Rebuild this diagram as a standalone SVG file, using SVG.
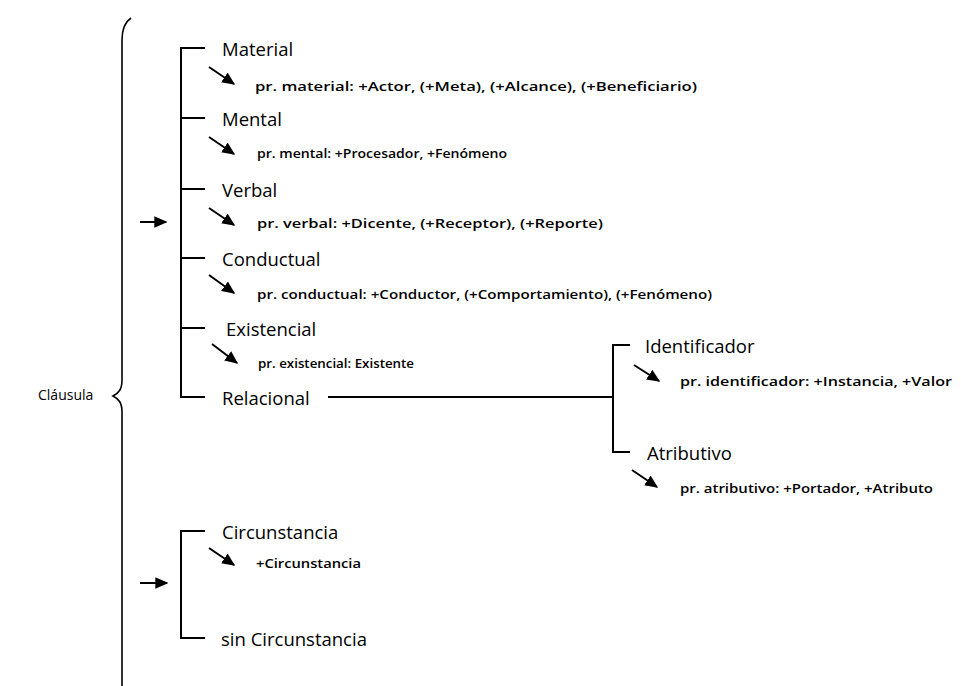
<svg xmlns="http://www.w3.org/2000/svg" width="961" height="686" viewBox="0 0 961 686">
  <style>
    .ln { stroke: #000; stroke-width: 2; fill: none; }
    .br { stroke: #000; stroke-width: 1.6; fill: none; }
    .ar { stroke: #000; stroke-width: 2; fill: none; }
    .title { font-family: "Open Sans", "Liberation Sans", sans-serif; font-size: 18.5px; font-weight: 500; fill: #000; }
    .sub { font-family: "Open Sans", "Liberation Sans", sans-serif; font-size: 13px; font-weight: 600; fill: #000; }
    .root { font-family: "Open Sans", "Liberation Sans", sans-serif; font-size: 14px; font-weight: 500; fill: #000; }
  </style>
  <defs>
    <marker id="head" viewBox="0 0 10 10" refX="9" refY="5" markerWidth="6.5" markerHeight="6.5" orient="auto" markerUnits="strokeWidth">
      <path d="M0,0.5 L10,5 L0,9.5 Z" fill="#000"/>
    </marker>
  </defs>
  <rect width="961" height="686" fill="#fff"/>

  <!-- root label and brace -->
  <g id="clausula">
    <text class="root" x="38" y="400">Cláusula</text>
    <path class="br" d="M131,18 C125,22 122,28 122,40 L122,380 C122,389 119,393 113,396 C119,399 122,403 122,412 L122,686"/>
  </g>

  <!-- connectors: brackets, ticks and arrows -->
  <g id="connectors">
    <!-- upper bracket -->
    <path class="ln" d="M205,48 H181 V397 H205"/>
    <path class="ln" d="M181,118 H205 M181,189 H205 M181,258 H205 M181,328 H205"/>
    <path class="ar" d="M140,222 H166" marker-end="url(#head)"/>
    <!-- relational bracket -->
    <path class="ln" d="M328,397 H613"/>
    <path class="ln" d="M630,345 H613 V452 H630"/>
    <!-- lower bracket -->
    <path class="ln" d="M205,531 H181 V638 H205"/>
    <path class="ar" d="M140,583 H167" marker-end="url(#head)"/>
    <!-- diagonal pointers -->
    <path class="ar" d="M209,67 L234,84" marker-end="url(#head)"/>
    <path class="ar" d="M209,137 L234,154" marker-end="url(#head)"/>
    <path class="ar" d="M209,208 L234,225" marker-end="url(#head)"/>
    <path class="ar" d="M209,275 L234,293" marker-end="url(#head)"/>
    <path class="ar" d="M212,344 L237,363" marker-end="url(#head)"/>
    <path class="ar" d="M634,365 L659,381" marker-end="url(#head)"/>
    <path class="ar" d="M632,470 L657,487" marker-end="url(#head)"/>
    <path class="ar" d="M209,548 L234,565" marker-end="url(#head)"/>
  </g>

  <g id="material">
    <text class="title" x="222" y="56">Material</text>
    <text class="sub" x="255" y="91" textLength="442" lengthAdjust="spacingAndGlyphs">pr. material: +Actor, (+Meta), (+Alcance), (+Beneficiario)</text>
  </g>
  <g id="mental">
    <text class="title" x="222" y="126">Mental</text>
    <text class="sub" x="257" y="158" textLength="250" lengthAdjust="spacingAndGlyphs">pr. mental: +Procesador, +Fenómeno</text>
  </g>
  <g id="verbal">
    <text class="title" x="222" y="197">Verbal</text>
    <text class="sub" x="257" y="228" textLength="346" lengthAdjust="spacingAndGlyphs">pr. verbal: +Dicente, (+Receptor), (+Reporte)</text>
  </g>
  <g id="conductual">
    <text class="title" x="222" y="266">Conductual</text>
    <text class="sub" x="257" y="299" textLength="455" lengthAdjust="spacingAndGlyphs">pr. conductual: +Conductor,  (+Comportamiento), (+Fenómeno)</text>
  </g>
  <g id="existencial">
    <text class="title" x="226" y="336">Existencial</text>
    <text class="sub" x="258" y="368" textLength="156" lengthAdjust="spacingAndGlyphs">pr. existencial: Existente</text>
  </g>
  <g id="relacional">
    <text class="title" x="222" y="405">Relacional</text>
  </g>
  <g id="identificador">
    <text class="title" x="645" y="353">Identificador</text>
    <text class="sub" x="680" y="386" textLength="272" lengthAdjust="spacingAndGlyphs">pr. identificador: +Instancia, +Valor</text>
  </g>
  <g id="atributivo">
    <text class="title" x="647" y="460">Atributivo</text>
    <text class="sub" x="680" y="493" textLength="253" lengthAdjust="spacingAndGlyphs">pr. atributivo: +Portador, +Atributo</text>
  </g>
  <g id="circunstancia">
    <text class="title" x="222" y="539">Circunstancia</text>
    <text class="sub" x="256" y="568" textLength="105" lengthAdjust="spacingAndGlyphs">+Circunstancia</text>
  </g>
  <g id="sin-circunstancia">
    <text class="title" x="221" y="646">sin Circunstancia</text>
  </g>
</svg>
